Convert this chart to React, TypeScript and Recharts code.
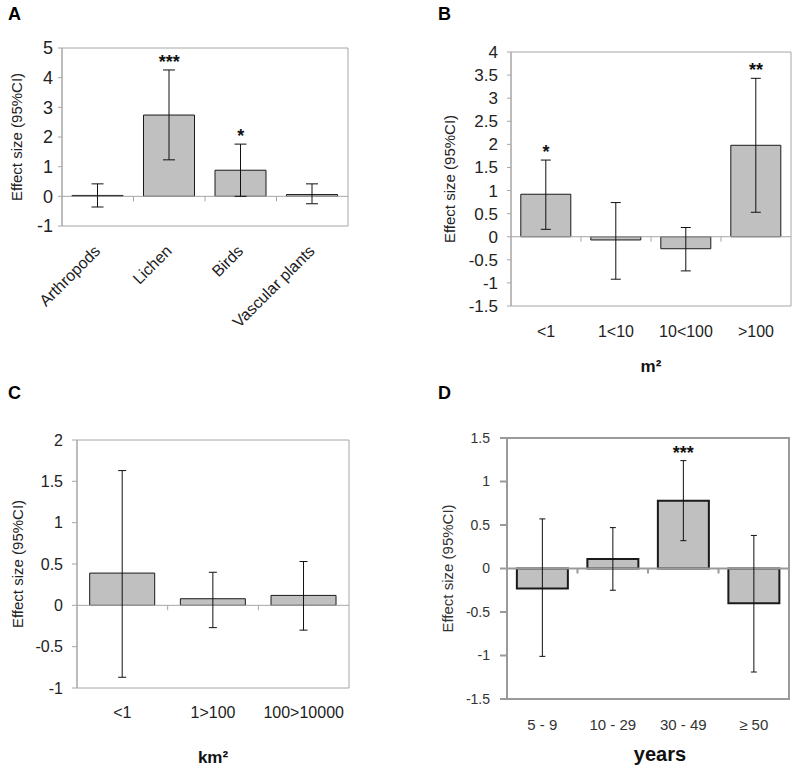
import React from 'react';
import {
  ComposedChart,
  Bar,
  ErrorBar,
  Scatter,
  XAxis,
  YAxis,
  ReferenceArea,
  ReferenceLine,
} from 'recharts';

const FONT = '"Liberation Sans", Arial, sans-serif';

// A: taxon groups
const catsA = ['Arthropods', 'Lichen', 'Birds', 'Vascular plants'];
const effA = [0.03, 2.74, 0.88, 0.06];
const loA = [-0.36, 1.23, 0.0, -0.25];
const hiA = [0.42, 4.26, 1.76, 0.42];
const sigA = ['', '***', '*', ''];
const ticksA = [-1, 0, 1, 2, 3, 4, 5];

// B: plot size (m²)
const catsB = ['<1', '1<10', '10<100', '>100'];
const effB = [0.92, -0.07, -0.26, 1.98];
const loB = [0.16, -0.92, -0.74, 0.53];
const hiB = [1.66, 0.74, 0.2, 3.43];
const sigB = ['*', '', '', '**'];
const ticksB = [-1.5, -1, -0.5, 0, 0.5, 1, 1.5, 2, 2.5, 3, 3.5, 4];

// C: area (km²)
const catsC = ['<1', '1>100', '100>10000'];
const effC = [0.39, 0.08, 0.12];
const loC = [-0.87, -0.27, -0.3];
const hiC = [1.63, 0.4, 0.53];
const sigC = ['', '', ''];
const ticksC = [-1, -0.5, 0, 0.5, 1, 1.5, 2];

// D: time since (years)
const catsD = ['5 - 9', '10 - 29', '30 - 49', '≥ 50'];
const effD = [-0.23, 0.11, 0.78, -0.4];
const loD = [-1.01, -0.25, 0.32, -1.19];
const hiD = [0.57, 0.47, 1.24, 0.38];
const sigD = ['', '', '***', ''];
const ticksD = [-1.5, -1, -0.5, 0, 0.5, 1, 1.5];

type PanelProps = {
  letter: string;
  x: number;
  y: number;
  w: number;
  h: number;
  plotLeft: number;
  plotTop: number;
  plotRight: number;
  plotBottom: number;
  cats: string[];
  eff: number[];
  lo: number[];
  hi: number[];
  sig: string[];
  ticks: number[];
  yTitleOffset: number;
  yTickSize: number;
  yTickMargin: number;
  yTickFont: number;
  xTickFont: number;
  xTickMargin: number;
  rotate?: boolean;
  xTitle?: string;
  xTitleOffset?: number;
  xTitleFont?: number;
  xTitleDx?: number;
  capW: number;
  thick?: boolean;
  textColor: string;
};

function ZeroAxis(props: any) {
  const { x1, x2, y1, n, stroke, strokeWidth } = props;
  const step = (x2 - x1) / n;
  const marks = [];
  for (let i = 1; i < n; i++) {
    const tx = x1 + step * i;
    marks.push(<line key={i} x1={tx} x2={tx} y1={y1} y2={y1 + 5} stroke={stroke} strokeWidth={strokeWidth} />);
  }
  return (
    <g>
      <line x1={x1} x2={x2} y1={y1} y2={y1} stroke={stroke} strokeWidth={strokeWidth} />
      {marks}
    </g>
  );
}

function SlantTick(props: any) {
  const { x, y, payload, fontSize, fill } = props;
  const tx = x + 3.5;
  return (
    <text
      x={tx}
      y={y}
      transform={`rotate(-45, ${tx}, ${y})`}
      textAnchor="end"
      fontSize={fontSize}
      fill={fill}
      fontFamily={FONT}
    >
      {payload.value}
    </text>
  );
}

function Stars(props: any) {
  const { cx, cy, payload } = props;
  if (!payload || !payload.sig) return <g />;
  return (
    <text x={cx} y={cy - 2} textAnchor="middle" fontSize={18} fontWeight="bold" fill="#111" fontFamily={FONT}>
      {payload.sig}
    </text>
  );
}

function Panel(p: PanelProps) {
  const rows = p.cats.map((c, i) => ({
    cat: c,
    eff: p.eff[i],
    err: [p.eff[i] - p.lo[i], p.hi[i] - p.eff[i]],
    hi: p.hi[i],
    sig: p.sig[i],
  }));
  const min = p.ticks[0];
  const max = p.ticks[p.ticks.length - 1];
  const gray = p.thick ? '#9a9a9a' : '#a6a6a6';
  const sw = p.thick ? 2 : 1;

  return (
    <div style={{ position: 'absolute', left: p.x, top: p.y, width: p.w, height: p.h }}>
      <div
        style={{
          position: 'absolute',
          left: 8,
          top: p.y === 0 ? 5 : -6,
          fontSize: 18,
          lineHeight: '18px',
          fontWeight: 'bold',
          color: '#000',
          fontFamily: FONT,
          marginLeft: p.x === 0 ? 0 : 30,
        }}
      >
        {p.letter}
      </div>
      <ComposedChart
        width={p.w}
        height={p.h}
        data={rows}
        margin={{ top: p.plotTop, right: p.w - p.plotRight, bottom: 0, left: 0 }}
        barCategoryGap="14%"
        style={{ fontFamily: FONT }}
      >
        <XAxis
          dataKey="cat"
          height={p.h - p.plotBottom}
          axisLine={false}
          tickLine={false}
          tickSize={0}
          tickMargin={p.xTickMargin}
          interval={0}
          tick={
            p.rotate
              ? <SlantTick fontSize={p.xTickFont} fill={p.textColor} />
              : { fontSize: p.xTickFont, fill: p.textColor }
          }
          label={
            p.xTitle
              ? {
                  value: p.xTitle,
                  position: 'insideBottom',
                  offset: p.xTitleOffset,
                  dx: p.xTitleDx || 0,
                  fontSize: p.xTitleFont,
                  fontWeight: 'bold',
                  fill: '#111',
                }
              : undefined
          }
        />
        <YAxis
          type="number"
          width={p.plotLeft}
          domain={[min, max]}
          ticks={p.ticks}
          interval={0}
          allowDataOverflow
          axisLine={{ stroke: gray, strokeWidth: sw }}
          tickLine={{ stroke: gray, strokeWidth: sw }}
          tickSize={p.yTickSize}
          tickMargin={p.yTickMargin}
          tick={{ fontSize: p.yTickFont, fill: p.textColor }}
          label={{
            value: 'Effect size (95%CI)',
            angle: -90,
            position: 'insideLeft',
            offset: p.yTitleOffset,
            style: { textAnchor: 'middle', fontSize: 15 },
            fill: p.textColor,
          }}
        />
        <ReferenceArea y1={min} y2={max} fill="none" stroke={gray} strokeWidth={sw} fillOpacity={0} ifOverflow="visible" />
        <ReferenceLine
          y={0}
          stroke={gray}
          strokeWidth={sw}
          shape={(sp: any) => <ZeroAxis {...sp} n={p.cats.length} stroke={gray} strokeWidth={sw} />}
        />
        <Bar dataKey="eff" fill="#c0c0c0" stroke="#1a1a1a" strokeWidth={p.thick ? 2 : 1} isAnimationActive={false}>
          <ErrorBar dataKey="err" width={p.capW} stroke="#111" strokeWidth={1} direction="y" />
        </Bar>
        <Scatter dataKey="hi" isAnimationActive={false} shape={<Stars />} />
      </ComposedChart>
    </div>
  );
}

export default function App() {
  return (
    <div
      style={{
        position: 'absolute',
        left: 0,
        top: 0,
        width: 798,
        height: 772,
        background: '#fff',
        fontFamily: FONT,
      }}
    >
      <Panel
        letter="A"
        x={0}
        y={0}
        w={400}
        h={390}
        plotLeft={62}
        plotTop={48}
        plotRight={348}
        plotBottom={226}
        cats={catsA}
        eff={effA}
        lo={loA}
        hi={hiA}
        sig={sigA}
        ticks={ticksA}
        yTitleOffset={17}
        yTickSize={4}
        yTickMargin={5}
        yTickFont={18}
        xTickFont={16}
        xTickMargin={26}
        rotate
        capW={6}
        textColor="#222"
      />
      <Panel
        letter="B"
        x={400}
        y={0}
        w={398}
        h={390}
        plotLeft={111}
        plotTop={52}
        plotRight={391}
        plotBottom={306}
        cats={catsB}
        eff={effB}
        lo={loB}
        hi={hiB}
        sig={sigB}
        ticks={ticksB}
        yTitleOffset={50}
        yTickSize={4}
        yTickMargin={9}
        yTickFont={17}
        xTickFont={16}
        xTickMargin={20}
        xTitle="m²"
        xTitleOffset={18}
        xTitleFont={17}
        capW={5}
        textColor="#222"
      />
      <Panel
        letter="C"
        x={0}
        y={390}
        w={400}
        h={382}
        plotLeft={77}
        plotTop={50}
        plotRight={349}
        plotBottom={298}
        cats={catsC}
        eff={effC}
        lo={loC}
        hi={hiC}
        sig={sigC}
        ticks={ticksC}
        yTitleOffset={18}
        yTickSize={5}
        yTickMargin={9}
        yTickFont={16}
        xTickFont={16}
        xTickMargin={19}
        xTitle="km²"
        xTitleOffset={9}
        xTitleFont={17}
        capW={4}
        textColor="#222"
      />
      <Panel
        letter="D"
        x={400}
        y={390}
        w={398}
        h={382}
        plotLeft={107}
        plotTop={48}
        plotRight={389}
        plotBottom={309}
        cats={catsD}
        eff={effD}
        lo={loD}
        hi={hiD}
        sig={sigD}
        ticks={ticksD}
        yTitleOffset={48}
        yTickSize={7}
        yTickMargin={10}
        yTickFont={14}
        xTickFont={15}
        xTickMargin={20}
        xTitle="years"
        xTitleOffset={11}
        xTitleFont={20}
        xTitleDx={12}
        capW={3}
        thick
        textColor="#333"
      />
    </div>
  );
}
